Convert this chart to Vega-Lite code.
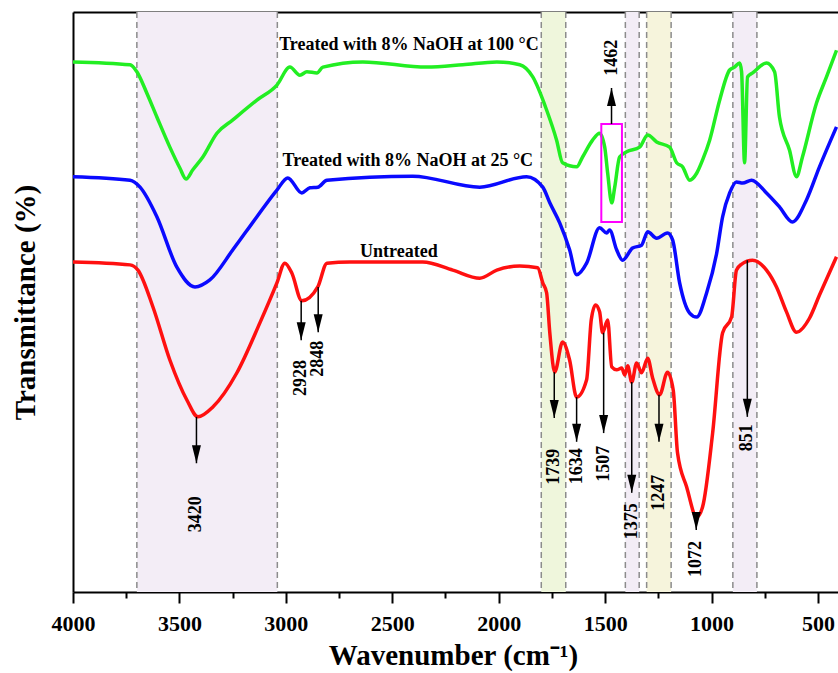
{
  "$schema": "https://vega.github.io/schema/vega-lite/v6.json",
  "autosize": {"type": "none"},
  "width": 765,
  "height": 580,
  "padding": {"left": 73, "top": 12, "right": 0, "bottom": 81},
  "background": "white",
  "config": {"view": {"stroke": null}, "font": "Liberation Serif"},
  "datasets": {
    "bands": [
      {"a": 3700, "b": 3040, "c": "p"},
      {"a": 1800, "b": 1685, "c": "g"},
      {"a": 1405, "b": 1340, "c": "p"},
      {"a": 1305, "b": 1190, "c": "y"},
      {"a": 900, "b": 787, "c": "p"}
    ],
    "curves": [
      {"s": "g", "w": 4000, "t": 91.4}, {"s": "g", "w": 3732, "t": 90.9}, {"s": "g", "w": 3700, "t": 89.7}, {"s": "g", "w": 3653, "t": 86.0},
      {"s": "g", "w": 3606, "t": 81.9}, {"s": "g", "w": 3545, "t": 76.7}, {"s": "g", "w": 3498, "t": 73.1}, {"s": "g", "w": 3469, "t": 71.2},
      {"s": "g", "w": 3437, "t": 72.8}, {"s": "g", "w": 3390, "t": 75.0}, {"s": "g", "w": 3324, "t": 79.1}, {"s": "g", "w": 3249, "t": 81.4},
      {"s": "g", "w": 3136, "t": 84.8}, {"s": "g", "w": 3042, "t": 87.4}, {"s": "g", "w": 2981, "t": 90.5}, {"s": "g", "w": 2934, "t": 89.1},
      {"s": "g", "w": 2901, "t": 89.7}, {"s": "g", "w": 2854, "t": 89.5}, {"s": "g", "w": 2826, "t": 90.5}, {"s": "g", "w": 2638, "t": 91.4},
      {"s": "g", "w": 2338, "t": 90.5}, {"s": "g", "w": 2169, "t": 90.9}, {"s": "g", "w": 2009, "t": 91.4}, {"s": "g", "w": 1901, "t": 90.9},
      {"s": "g", "w": 1840, "t": 88.8}, {"s": "g", "w": 1775, "t": 83.1}, {"s": "g", "w": 1728, "t": 77.9}, {"s": "g", "w": 1700, "t": 74.0},
      {"s": "g", "w": 1634, "t": 73.3}, {"s": "g", "w": 1606, "t": 75.0}, {"s": "g", "w": 1559, "t": 77.9}, {"s": "g", "w": 1526, "t": 79.1},
      {"s": "g", "w": 1502, "t": 76.7}, {"s": "g", "w": 1488, "t": 72.2}, {"s": "g", "w": 1469, "t": 67.1}, {"s": "g", "w": 1455, "t": 69.8},
      {"s": "g", "w": 1432, "t": 75.0}, {"s": "g", "w": 1399, "t": 75.9}, {"s": "g", "w": 1338, "t": 76.7}, {"s": "g", "w": 1300, "t": 78.8},
      {"s": "g", "w": 1258, "t": 77.6}, {"s": "g", "w": 1197, "t": 76.7}, {"s": "g", "w": 1164, "t": 74.0}, {"s": "g", "w": 1136, "t": 73.3},
      {"s": "g", "w": 1103, "t": 71.0}, {"s": "g", "w": 1070, "t": 72.2}, {"s": "g", "w": 1042, "t": 74.5}, {"s": "g", "w": 1009, "t": 77.9},
      {"s": "g", "w": 962, "t": 84.8}, {"s": "g", "w": 915, "t": 90.0}, {"s": "g", "w": 892, "t": 90.5}, {"s": "g", "w": 868, "t": 91.2},
      {"s": "g", "w": 859, "t": 89.7}, {"s": "g", "w": 845, "t": 74.0}, {"s": "g", "w": 831, "t": 88.8}, {"s": "g", "w": 807, "t": 89.5},
      {"s": "g", "w": 742, "t": 91.2}, {"s": "g", "w": 704, "t": 89.7}, {"s": "g", "w": 681, "t": 81.9}, {"s": "g", "w": 634, "t": 76.2},
      {"s": "g", "w": 601, "t": 71.6}, {"s": "g", "w": 573, "t": 75.0}, {"s": "g", "w": 507, "t": 84.3}, {"s": "g", "w": 460, "t": 88.8},
      {"s": "g", "w": 413, "t": 93.4},
      {"s": "b", "w": 4000, "t": 71.6}, {"s": "b", "w": 3732, "t": 71.0}, {"s": "b", "w": 3685, "t": 69.8}, {"s": "b", "w": 3606, "t": 64.7},
      {"s": "b", "w": 3512, "t": 56.0}, {"s": "b", "w": 3427, "t": 52.6}, {"s": "b", "w": 3357, "t": 53.8}, {"s": "b", "w": 3249, "t": 59.0},
      {"s": "b", "w": 3136, "t": 64.7}, {"s": "b", "w": 3042, "t": 69.3}, {"s": "b", "w": 2991, "t": 71.4}, {"s": "b", "w": 2925, "t": 68.8},
      {"s": "b", "w": 2887, "t": 69.7}, {"s": "b", "w": 2850, "t": 69.8}, {"s": "b", "w": 2807, "t": 71.0}, {"s": "b", "w": 2404, "t": 71.7},
      {"s": "b", "w": 2089, "t": 69.8}, {"s": "b", "w": 1869, "t": 71.6}, {"s": "b", "w": 1793, "t": 69.8}, {"s": "b", "w": 1760, "t": 67.1},
      {"s": "b", "w": 1713, "t": 63.6}, {"s": "b", "w": 1667, "t": 59.0}, {"s": "b", "w": 1634, "t": 54.7}, {"s": "b", "w": 1587, "t": 56.7},
      {"s": "b", "w": 1526, "t": 62.8}, {"s": "b", "w": 1493, "t": 61.9}, {"s": "b", "w": 1479, "t": 62.4}, {"s": "b", "w": 1446, "t": 59.0},
      {"s": "b", "w": 1418, "t": 57.2}, {"s": "b", "w": 1371, "t": 59.3}, {"s": "b", "w": 1329, "t": 59.8}, {"s": "b", "w": 1300, "t": 62.1},
      {"s": "b", "w": 1258, "t": 61.0}, {"s": "b", "w": 1207, "t": 61.9}, {"s": "b", "w": 1183, "t": 60.7}, {"s": "b", "w": 1150, "t": 53.3},
      {"s": "b", "w": 1103, "t": 48.1}, {"s": "b", "w": 1070, "t": 47.4}, {"s": "b", "w": 1023, "t": 51.6}, {"s": "b", "w": 976, "t": 58.4},
      {"s": "b", "w": 948, "t": 64.7}, {"s": "b", "w": 915, "t": 68.8}, {"s": "b", "w": 883, "t": 70.7}, {"s": "b", "w": 854, "t": 70.5},
      {"s": "b", "w": 812, "t": 71.0}, {"s": "b", "w": 742, "t": 68.8}, {"s": "b", "w": 681, "t": 66.4}, {"s": "b", "w": 620, "t": 63.8},
      {"s": "b", "w": 554, "t": 67.6}, {"s": "b", "w": 493, "t": 73.3}, {"s": "b", "w": 413, "t": 80.2},
      {"s": "r", "w": 4000, "t": 56.9}, {"s": "r", "w": 3732, "t": 56.4}, {"s": "r", "w": 3695, "t": 55.5}, {"s": "r", "w": 3624, "t": 49.1},
      {"s": "r", "w": 3545, "t": 40.0}, {"s": "r", "w": 3465, "t": 33.1}, {"s": "r", "w": 3413, "t": 30.2}, {"s": "r", "w": 3343, "t": 31.9},
      {"s": "r", "w": 3230, "t": 37.8}, {"s": "r", "w": 3122, "t": 46.4}, {"s": "r", "w": 3042, "t": 53.3}, {"s": "r", "w": 3005, "t": 56.7},
      {"s": "r", "w": 2972, "t": 55.0}, {"s": "r", "w": 2925, "t": 50.2}, {"s": "r", "w": 2850, "t": 52.6}, {"s": "r", "w": 2807, "t": 56.7},
      {"s": "r", "w": 2699, "t": 56.9}, {"s": "r", "w": 2357, "t": 56.9}, {"s": "r", "w": 2216, "t": 55.5}, {"s": "r", "w": 2089, "t": 54.1},
      {"s": "r", "w": 2009, "t": 55.5}, {"s": "r", "w": 1901, "t": 56.2}, {"s": "r", "w": 1817, "t": 55.9}, {"s": "r", "w": 1793, "t": 53.3},
      {"s": "r", "w": 1775, "t": 51.6}, {"s": "r", "w": 1760, "t": 44.7}, {"s": "r", "w": 1737, "t": 37.9}, {"s": "r", "w": 1700, "t": 43.1},
      {"s": "r", "w": 1667, "t": 40.0}, {"s": "r", "w": 1634, "t": 33.6}, {"s": "r", "w": 1587, "t": 36.6}, {"s": "r", "w": 1565, "t": 47.0},
      {"s": "r", "w": 1545, "t": 49.5}, {"s": "r", "w": 1526, "t": 48.3}, {"s": "r", "w": 1512, "t": 44.7}, {"s": "r", "w": 1488, "t": 46.9}, {"s": "r", "w": 1469, "t": 38.8},
      {"s": "r", "w": 1446, "t": 38.3}, {"s": "r", "w": 1422, "t": 38.6}, {"s": "r", "w": 1408, "t": 37.4}, {"s": "r", "w": 1394, "t": 39.0},
      {"s": "r", "w": 1375, "t": 36.2}, {"s": "r", "w": 1352, "t": 39.5}, {"s": "r", "w": 1329, "t": 37.8}, {"s": "r", "w": 1300, "t": 40.3},
      {"s": "r", "w": 1277, "t": 36.9}, {"s": "r", "w": 1244, "t": 34.0}, {"s": "r", "w": 1207, "t": 37.9}, {"s": "r", "w": 1180, "t": 34.8},
      {"s": "r", "w": 1160, "t": 24.0}, {"s": "r", "w": 1117, "t": 18.1}, {"s": "r", "w": 1070, "t": 12.9}, {"s": "r", "w": 1042, "t": 14.7},
      {"s": "r", "w": 995, "t": 27.4}, {"s": "r", "w": 948, "t": 44.7}, {"s": "r", "w": 906, "t": 47.4}, {"s": "r", "w": 883, "t": 55.5},
      {"s": "r", "w": 860, "t": 56.5}, {"s": "r", "w": 807, "t": 57.2}, {"s": "r", "w": 742, "t": 55.5}, {"s": "r", "w": 695, "t": 52.6},
      {"s": "r", "w": 648, "t": 48.3}, {"s": "r", "w": 601, "t": 44.8}, {"s": "r", "w": 540, "t": 47.2}, {"s": "r", "w": 493, "t": 51.2},
      {"s": "r", "w": 413, "t": 57.8}
    ],
    "arrows": [
      {"w": 3420, "t1": 30.2, "t2": 22.2, "lab": "3420", "lt": 13.4, "dir": "down"},
      {"w": 2928, "t1": 50.2, "t2": 43.4, "lab": "2928", "lt": 36.9, "dir": "down"},
      {"w": 2848, "t1": 52.6, "t2": 44.8, "lab": "2848", "lt": 40.2, "dir": "down"},
      {"w": 1739, "t1": 37.9, "t2": 30.0, "lab": "1739", "lt": 21.6, "dir": "down"},
      {"w": 1634, "t1": 33.6, "t2": 25.9, "lab": "1634", "lt": 21.7, "dir": "down"},
      {"w": 1507, "t1": 44.7, "t2": 27.4, "lab": "1507", "lt": 22.1, "dir": "down"},
      {"w": 1375, "t1": 36.2, "t2": 17.1, "lab": "1375", "lt": 12.2, "dir": "down"},
      {"w": 1247, "t1": 34.0, "t2": 25.9, "lab": "1247", "lt": 17.1, "dir": "down"},
      {"w": 1072, "t1": 12.9, "t2": 10.7, "lab": "1072", "lt": 5.7, "dir": "down"},
      {"w": 832, "t1": 57.2, "t2": 30.2, "lab": "851", "lt": 26.6, "dir": "down"},
      {"w": 1470, "t1": 80.7, "t2": 86.9, "lab": "1462", "lt": 92.1, "dir": "up"}
    ],
    "names": [
      {"w": 2422, "t": 93.4, "txt": "Treated with 8% NaOH at 100 °C"},
      {"w": 2427, "t": 73.4, "txt": "Treated with 8% NaOH at 25 °C"},
      {"w": 2469, "t": 57.8, "txt": "Untreated"}
    ],
    "box": [{"a": 1518, "b": 1421, "t1": 63.8, "t2": 80.7}]
  },
  "resolve": {"axis": {"x": "independent", "y": "independent"}},
  "layer": [
    {
      "data": {"name": "bands"},
      "mark": {"type": "rect"},
      "encoding": {
        "x": {"field": "a", "type": "quantitative",
          "scale": {"domain": [4000, 406], "nice": false, "zero": false},
          "axis": {"orient": "bottom", "values": [4000, 3500, 3000, 2500, 2000, 1500, 1000, 500],
            "grid": false, "domain": true, "domainColor": "black", "domainWidth": 2,
            "ticks": true, "tickSize": 11, "tickWidth": 2, "tickColor": "black",
            "labelFont": "Liberation Serif", "labelFontSize": 22, "labelFontWeight": "bold", "labelColor": "black",
            "labelBaseline": "alphabetic", "labelPadding": 27, "labelFlush": false, "labelOverlap": false, "format": "d",
            "title": "Wavenumber (cm⁻¹)", "titleFont": "Liberation Serif", "titleFontSize": 29, "titleFontWeight": "bold",
            "titleColor": "black", "titleBaseline": "alphabetic", "titleAlign": "center", "titleX": 380, "titleY": 72}},
        "x2": {"field": "b"},
        "fill": {"field": "c", "type": "nominal", "scale": {"domain": ["p", "g", "y"], "range": ["#f3edf6", "#eff6dc", "#f6f4dc"]}, "legend": null}
      }
    },
    {
      "data": {"name": "bands"},
      "mark": {"type": "rule", "color": "#8c8c8c", "strokeWidth": 1.5, "strokeDash": [6, 4]},
      "encoding": {
        "x": {"field": "a", "type": "quantitative",
          "axis": {"orient": "bottom", "values": [3750, 3250, 2750, 2250, 1750, 1250, 750], "grid": false, "domain": false,
            "ticks": true, "tickSize": 6, "tickWidth": 2, "tickColor": "black", "labels": false, "title": null}}
      }
    },
    {
      "data": {"name": "bands"},
      "mark": {"type": "rule", "color": "#8c8c8c", "strokeWidth": 1.5, "strokeDash": [6, 4]},
      "encoding": {
        "x": {"field": "b", "type": "quantitative",
          "axis": {"orient": "top", "grid": false, "domain": true, "domainColor": "black", "domainWidth": 2,
            "ticks": false, "labels": false, "title": null}}
      }
    },
    {
      "data": {"name": "curves"},
      "mark": {"type": "line", "strokeWidth": 3.5, "interpolate": "monotone"},
      "encoding": {
        "x": {"field": "w", "type": "quantitative", "axis": null},
        "y": {"field": "t", "type": "quantitative",
          "scale": {"domain": [0, 100], "nice": false, "zero": false},
          "title": "Transmittance (%)",
          "axis": {"orient": "left", "grid": false, "domain": true, "domainColor": "black", "domainWidth": 2, "ticks": false, "labels": false,
            "title": "Transmittance (%)", "titleFont": "Liberation Serif", "titleFontSize": 29, "titleFontWeight": "bold",
            "titleColor": "black", "titlePadding": 33, "titleOpacity": 1}},
        "stroke": {"field": "s", "type": "nominal", "scale": {"domain": ["g", "b", "r"], "range": ["#22ee22", "#0a0aff", "#ff1010"]}, "legend": null},
        "detail": {"field": "s"}
      }
    },
    {
      "data": {"name": "box"},
      "mark": {"type": "rect", "filled": false, "color": "#ff00ff", "strokeWidth": 2},
      "encoding": {
        "x": {"field": "a", "type": "quantitative", "axis": null},
        "x2": {"field": "b"},
        "y": {"field": "t1", "type": "quantitative", "axis": null},
        "y2": {"field": "t2"}
      }
    },
    {
      "data": {"name": "arrows"},
      "mark": {"type": "rule", "color": "black", "strokeWidth": 1.5},
      "encoding": {
        "x": {"field": "w", "type": "quantitative", "axis": null},
        "y": {"field": "t1", "type": "quantitative", "axis": null},
        "y2": {"field": "t2"}
      }
    },
    {
      "data": {"name": "arrows"},
      "mark": {"type": "point", "filled": true, "color": "black", "opacity": 1, "size": 81, "strokeWidth": 0},
      "encoding": {
        "x": {"field": "w", "type": "quantitative", "axis": null},
        "y": {"field": "t2", "type": "quantitative", "axis": null},
        "shape": {"field": "dir", "type": "nominal", "scale": {"domain": ["down", "up"], "range": ["M-1,-4L1,-4L0,0Z", "M-1,4L1,4L0,0Z"]}, "legend": null}
      }
    },
    {
      "data": {"name": "arrows"},
      "mark": {"type": "text", "font": "Liberation Serif", "fontSize": 18, "fontWeight": "bold", "color": "black", "angle": 270, "align": "center", "baseline": "middle"},
      "encoding": {
        "x": {"field": "w", "type": "quantitative", "axis": null},
        "y": {"field": "lt", "type": "quantitative", "axis": null},
        "text": {"field": "lab"}
      }
    },
    {
      "data": {"name": "names"},
      "mark": {"type": "text", "font": "Liberation Serif", "fontSize": 18, "fontWeight": "bold", "color": "black", "align": "center", "baseline": "alphabetic"},
      "encoding": {
        "x": {"field": "w", "type": "quantitative", "axis": null},
        "y": {"field": "t", "type": "quantitative", "axis": null},
        "text": {"field": "txt"}
      }
    }
  ]
}
